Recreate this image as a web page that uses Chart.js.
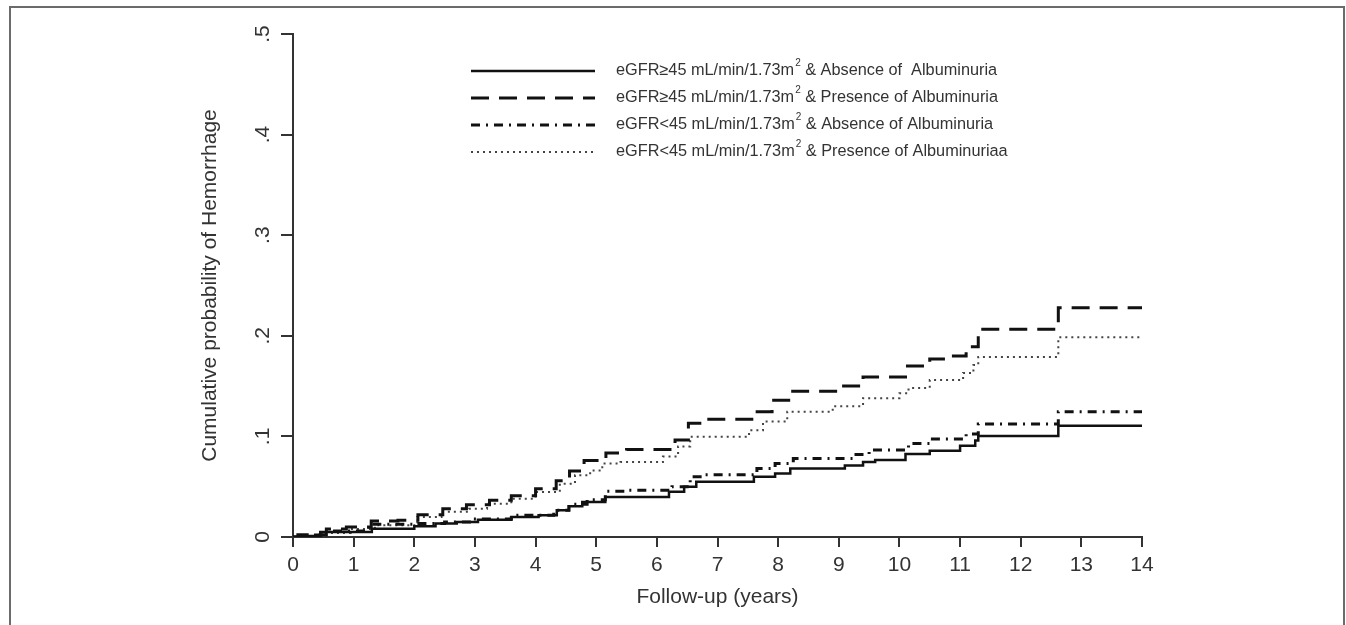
<!DOCTYPE html>
<html>
<head>
<meta charset="utf-8">
<script src="https://cdn.jsdelivr.net/npm/chart.js@4"></script>
<style>
  html, body { margin: 0; padding: 0; background: #fff; overflow: hidden; }
  #wrap { position: relative; width: 1346px; height: 625px; }
  #frame { position: absolute; left: 9px; top: 6px; right: 1px; height: 700px;
           border: 2px solid #6b6b6b; border-bottom: none; pointer-events: none; }
  canvas { position: absolute; left: 0; top: 0; }
</style>
</head>
<body>
<div id="wrap">
  <canvas id="kmChart" width="1346" height="625"></canvas>
  <div id="frame"></div>
</div>
<script>
const seriesLabels = [
    "eGFR≥45 mL/min/1.73m² & Absence of  Albuminuria",
    "eGFR≥45 mL/min/1.73m² & Presence of Albuminuria",
    "eGFR<45 mL/min/1.73m² & Absence of Albuminuria",
    "eGFR<45 mL/min/1.73m² & Presence of Albuminuriaa"
];

// follow-up time (years) at each step, and cumulative probability after the step
const absentHighTimes = [0, 0.15, 0.45, 1.3, 2.0, 2.35, 2.7, 3.05, 3.6, 4.05, 4.35, 4.55, 4.77, 5.15, 6.2, 6.45, 6.65, 7.6, 7.95, 8.2, 9.1, 9.4, 9.6, 10.1, 10.5, 11.0, 11.25, 11.3, 12.62, 14];
const absentHighProb  = [0, 0.001, 0.005, 0.0083, 0.0106, 0.0133, 0.015, 0.0172, 0.02, 0.0215, 0.0265, 0.0305, 0.0348, 0.0398, 0.045, 0.05, 0.055, 0.06, 0.063, 0.068, 0.071, 0.0745, 0.0765, 0.0825, 0.0858, 0.0908, 0.096, 0.1004, 0.1107, 0.1107];

const presentHighTimes = [0, 0.08, 0.55, 0.88, 1.29, 1.73, 2.06, 2.47, 2.86, 3.24, 3.6, 4.0, 4.34, 4.56, 4.8, 5.16, 5.5, 6.3, 6.52, 6.81, 7.62, 7.9, 8.24, 9.0, 9.4, 10.1, 10.5, 10.8, 11.1, 11.3, 12.62, 14];
const presentHighProb  = [0, 0.0023, 0.008, 0.0099, 0.0159, 0.0166, 0.0222, 0.028, 0.032, 0.0365, 0.041, 0.048, 0.056, 0.0656, 0.076, 0.0835, 0.087, 0.0964, 0.113, 0.117, 0.1246, 0.136, 0.145, 0.150, 0.159, 0.170, 0.177, 0.180, 0.189, 0.2065, 0.228, 0.228];

const absentLowTimes = [0, 0.3, 0.5, 1.25, 2.0, 2.5, 2.97, 3.6, 4.3, 4.55, 4.85, 5.15, 5.5, 6.25, 6.55, 6.75, 7.65, 7.95, 8.25, 9.25, 9.5, 10.15, 10.5, 11.1, 11.3, 12.62, 14];
const absentLowProb  = [0, 0.002, 0.006, 0.0126, 0.0135, 0.015, 0.018, 0.0215, 0.0265, 0.0325, 0.037, 0.0454, 0.0464, 0.05, 0.06, 0.062, 0.068, 0.073, 0.078, 0.082, 0.0865, 0.093, 0.0975, 0.1024, 0.1123, 0.1246, 0.1246];

const presentLowTimes = [0, 0.5, 0.95, 1.35, 2.05, 2.45, 2.9, 3.2, 3.6, 4.0, 4.4, 4.65, 4.9, 5.1, 5.4, 6.1, 6.35, 6.55, 7.52, 7.75, 8.15, 8.9, 9.4, 10.0, 10.15, 10.5, 11.05, 11.22, 11.3, 12.62, 14];
const presentLowProb  = [0, 0.004, 0.008, 0.0116, 0.02, 0.025, 0.028, 0.033, 0.038, 0.0447, 0.053, 0.0613, 0.066, 0.073, 0.0745, 0.08, 0.09, 0.0997, 0.106, 0.1147, 0.1246, 0.130, 0.138, 0.143, 0.148, 0.156, 0.163, 0.171, 0.179, 0.1985, 0.1985];

const xTickLabels = ["0", "1", "2", "3", "4", "5", "6", "7", "8", "9", "10", "11", "12", "13", "14"];
const yTickLabels = ["0", ".1", ".2", ".3", ".4", ".5"];

const FONT = "'Liberation Sans', Arial, sans-serif";

function toPoints(times, probs) {
    return times.map((t, i) => ({ x: t, y: probs[i] }));
}

function makeSet(label, times, probs, width, dash, color) {
    return {
        label: label,
        data: toPoints(times, probs),
        stepped: "before",
        borderColor: color,
        borderWidth: width,
        borderDash: dash,
        borderCapStyle: "butt",
        pointRadius: 0,
        fill: false
    };
}

// legend drawn inside the plot, lines on the left, text on the right
const legendPlugin = {
    id: "kmLegend",
    afterDraw(chart) {
        const ctx = chart.ctx;
        const x0 = 471, x1 = 595, tx = 616;
        const rows = [71, 98, 125, 152];
        chart.data.datasets.forEach((ds, i) => {
            const y = rows[i];
            ctx.save();
            ctx.strokeStyle = ds.borderColor;
            ctx.lineWidth = ds.borderWidth;
            ctx.setLineDash(ds.borderDash);
            ctx.beginPath();
            ctx.moveTo(x0, y);
            ctx.lineTo(x1, y);
            ctx.stroke();
            ctx.setLineDash([]);

            ctx.fillStyle = "#333";
            ctx.textBaseline = "middle";
            const parts = ds.label.split("²");
            ctx.font = "16.3px " + FONT;
            let x = tx;
            ctx.fillText(parts[0], x, y);
            x += ctx.measureText(parts[0]).width + 1;
            ctx.font = "10px " + FONT;
            ctx.fillText("2", x, y - 8);
            x += ctx.measureText("2").width;
            ctx.font = "16.3px " + FONT;
            ctx.fillText(parts[1], x, y);
            ctx.restore();
        });
    }
};

const chart = new Chart(document.getElementById("kmChart"), {
    type: "line",
    data: {
        datasets: [
            makeSet(seriesLabels[0], absentHighTimes, absentHighProb, 2.5, [], "#111"),
            makeSet(seriesLabels[1], presentHighTimes, presentHighProb, 3, [18, 10], "#111"),
            makeSet(seriesLabels[2], absentLowTimes, absentLowProb, 3, [9, 6, 2, 6], "#111"),
            makeSet(seriesLabels[3], presentLowTimes, presentLowProb, 2, [2, 4], "#444")
        ]
    },
    options: {
        responsive: false,
        animation: false,
        layout: { padding: { left: 198, top: 34, right: 204, bottom: 0 } },
        plugins: { legend: { display: false }, tooltip: { enabled: false } },
        scales: {
            x: {
                type: "linear",
                min: 0,
                max: 14,
                afterFit: s => { s.height = 88; },
                afterBuildTicks: s => { s.ticks = xTickLabels.map((l, i) => ({ value: i })); },
                ticks: {
                    autoSkip: false,
                    maxRotation: 0,
                    padding: 6,
                    color: "#333",
                    font: { family: FONT, size: 21 },
                    callback: (v, i) => xTickLabels[i]
                },
                grid: { drawOnChartArea: false, drawTicks: true, tickLength: 10, color: "#333", lineWidth: 2 },
                border: { display: true, color: "#333", width: 2 },
                title: {
                    display: true,
                    text: "Follow-up (years)",
                    color: "#333",
                    font: { family: FONT, size: 21 },
                    padding: { top: 0, bottom: 15 }
                }
            },
            y: {
                type: "linear",
                min: 0,
                max: 0.5,
                afterFit: s => { s.width = 95; },
                afterBuildTicks: s => { s.ticks = yTickLabels.map((l, i) => ({ value: i / 10 })); },
                ticks: {
                    minRotation: 90,
                    maxRotation: 90,
                    crossAlign: "center",
                    padding: 9,
                    color: "#333",
                    font: { family: FONT, size: 21 },
                    callback: (v, i) => yTickLabels[i]
                },
                grid: { drawOnChartArea: false, drawTicks: true, tickLength: 12, color: "#333", lineWidth: 2 },
                border: { display: true, color: "#333", width: 2 },
                title: {
                    display: true,
                    text: "Cumulative probability of Hemorrhage",
                    color: "#333",
                    font: { family: FONT, size: 21 },
                    padding: { top: 0, bottom: 0 }
                }
            }
        }
    },
    plugins: [legendPlugin]
});
</script>
</body>
</html>
